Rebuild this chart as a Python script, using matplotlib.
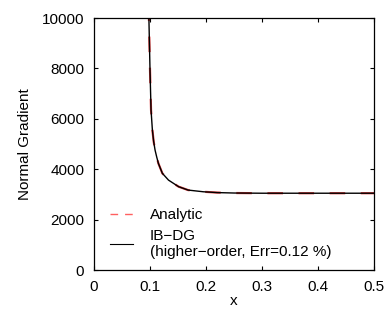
import matplotlib
matplotlib.use('Agg')
import matplotlib.pyplot as plt
from matplotlib.lines import Line2D

plt.rcParams['font.family'] = ['Liberation Sans', 'DejaVu Sans']
plt.rcParams['font.size'] = 11

# normal gradient along the wall
x_vals = [0.0975, 0.0988, 0.1000, 0.1018, 0.1042, 0.1065, 0.109, 0.112,
          0.115, 0.122, 0.133, 0.151, 0.168, 0.195, 0.220, 0.250, 0.300,
          0.400, 0.500]
grad_analytic = [10500, 9130, 7900, 6350, 5560, 5100, 4760, 4480,
                 4230, 3840, 3570, 3310, 3175, 3108, 3075, 3058, 3050,
                 3050, 3050]
grad_ibdg = [10500, 9130, 7900, 6350, 5560, 5100, 4760, 4480,
             4230, 3840, 3570, 3310, 3175, 3108, 3075, 3058, 3050,
             3050, 3050]

x_ticks = [0, 0.1, 0.2, 0.3, 0.4, 0.5]
y_ticks = [0, 2000, 4000, 6000, 8000, 10000]

fig = plt.figure(figsize=(3.87, 3.2), dpi=100)
ax = fig.add_axes([0.243, 0.156, 0.7234, 0.7875])

ax.plot(x_vals, grad_analytic, color='#e04040', lw=1.6, dashes=(7, 7), zorder=2)
ax.plot(x_vals, grad_ibdg, color='k', lw=1.0, zorder=3)

ax.set_xlim(0, 0.5)
ax.set_ylim(0, 10000)
ax.set_xticks(x_ticks)
ax.set_xticklabels(['0', '0.1', '0.2', '0.3', '0.4', '0.5'])
ax.set_yticks(y_ticks)
ax.set_yticklabels([str(v) for v in y_ticks])
ax.tick_params(direction='in', length=3, width=0.8, top=True, right=True)
ax.tick_params(axis='x', pad=7)
ax.tick_params(axis='y', pad=7)
for s in ax.spines.values():
    s.set_linewidth(0.9)

ax.set_xlabel('x', labelpad=0)
ax.set_ylabel('Normal Gradient', labelpad=7)

handles = [
    Line2D([], [], color='#ff6060', lw=1.0, dashes=(5.5, 5)),
    Line2D([], [], color='k', lw=0.8),
]
ax.legend(handles, ['Analytic', 'IB\u2212DG\n(higher\u2212order, Err=0.12 %)'],
          loc='lower left', bbox_to_anchor=(0.036, 0.02), borderaxespad=0,
          frameon=False, handlelength=1.5, handletextpad=1.1,
          labelspacing=0.45)

fig.savefig('out.png', dpi=100)
